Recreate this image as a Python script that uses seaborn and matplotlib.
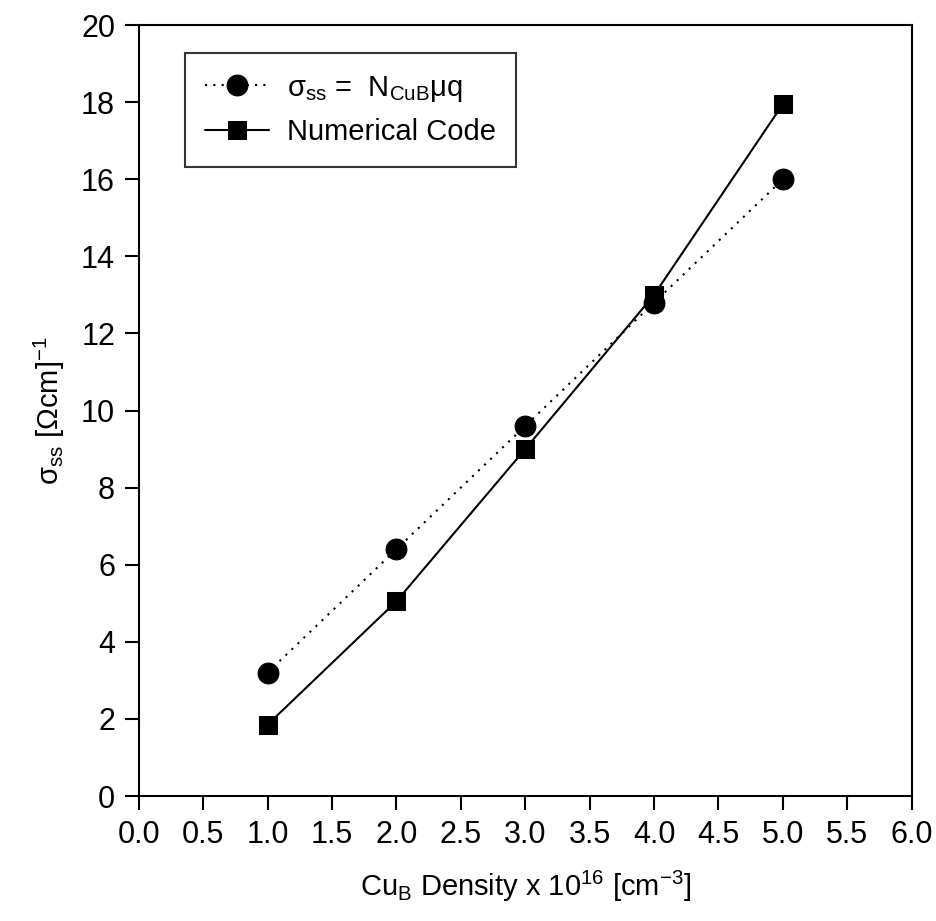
import matplotlib
matplotlib.use("Agg")
import matplotlib.pyplot as plt
import seaborn as sns
import pandas as pd

density = [1.0, 2.0, 3.0, 4.0, 5.0]
sigma_formula = [3.2, 6.4, 9.6, 12.8, 16.0]
sigma_numerical = [1.85, 5.05, 9.0, 13.0, 17.95]
label_formula = r"σ$_{\rm ss}$ =  N$_{\rm CuB}$μq"
label_numerical = "Numerical Code"
xticks = [0.0, 0.5, 1.0, 1.5, 2.0, 2.5, 3.0, 3.5, 4.0, 4.5, 5.0, 5.5, 6.0]
yticks = [0, 2, 4, 6, 8, 10, 12, 14, 16, 18, 20]

sns.set_theme(style="ticks")
plt.rcParams["font.family"] = ["Liberation Sans", "DejaVu Sans"]
plt.rcParams["mathtext.fontset"] = "custom"
plt.rcParams["mathtext.rm"] = "Liberation Sans"
plt.rcParams["mathtext.it"] = "Liberation Sans:italic"
plt.rcParams["mathtext.bf"] = "Liberation Sans:bold"
plt.rcParams["text.color"] = "black"
plt.rcParams["axes.labelcolor"] = "black"

df1 = pd.DataFrame({"x": density, "y": sigma_formula})
df2 = pd.DataFrame({"x": density, "y": sigma_numerical})

fig = plt.figure(figsize=(9.37, 9.21), dpi=100)
ax = fig.add_axes([0.148, 0.1357, 0.825, 0.837])

sns.lineplot(data=df1, x="x", y="y", ax=ax, color="black", linestyle=(0, (1, 3)),
             linewidth=1.5, marker="o", markersize=15, markeredgecolor="black",
             label=label_formula)
sns.lineplot(data=df2, x="x", y="y", ax=ax, color="black", linestyle="-",
             linewidth=1.5, marker="s", markersize=13, markeredgecolor="black",
             label=label_numerical)

ax.set_xlim(0, 6)
ax.set_ylim(0, 20)
ax.set_xticks(xticks)
ax.set_xticklabels([f"{t:.1f}" for t in xticks])
ax.set_yticks(yticks)
ax.set_yticklabels([str(t) for t in yticks])
ax.tick_params(axis="both", direction="out", length=10, width=1.5, labelsize=22,
               colors="black", pad=7)
for s in ax.spines.values():
    s.set_linewidth(1.5)
    s.set_color("black")

ax.set_xlabel(r"Cu$_{\rm B}$ Density x 10$^{16}$ [cm$^{-3}$]", fontsize=21, labelpad=14)
ax.set_ylabel(r"σ$_{\rm ss}$ [Ωcm]$^{-1}$", fontsize=21, labelpad=10)

leg = ax.legend(loc="upper left", bbox_to_anchor=(0.0595, 0.9637), borderaxespad=0,
                fontsize=21, frameon=True, fancybox=False, edgecolor="black",
                handlelength=2.2, borderpad=0.7, labelspacing=0.5, handletextpad=0.6)
leg.get_frame().set_linewidth(1.5)
for t in leg.get_texts():
    t.set_color("black")

fig.savefig("out.png", dpi=100)
